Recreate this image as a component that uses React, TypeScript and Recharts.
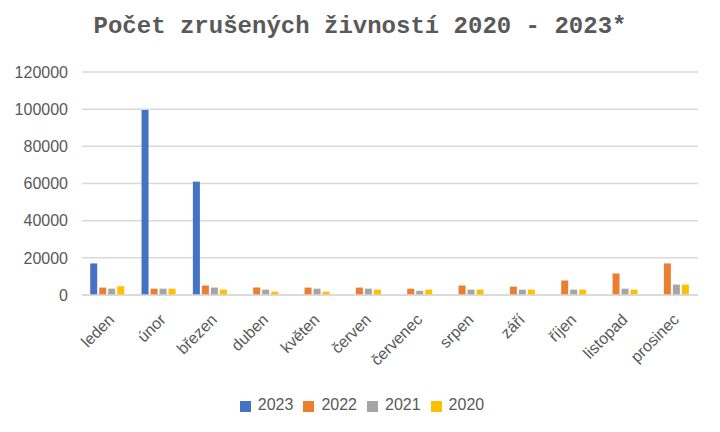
import { Bar, BarChart, CartesianGrid, Legend, XAxis, YAxis } from 'recharts'

const months = ['leden', 'únor', 'březen', 'duben', 'květen', 'červen', 'červenec', 'srpen', 'září', 'říjen', 'listopad', 'prosinec']
const y2023 = [17000, 99500, 61000, null, null, null, null, null, null, null, null, null]
const y2022 = [4000, 3400, 5100, 4000, 4000, 4000, 3400, 5100, 4500, 7800, 11600, 17000]
const y2021 = [3400, 3400, 4000, 2900, 3400, 3400, 2300, 2900, 2900, 2900, 3400, 5600]
const y2020 = [4700, 3400, 2900, 1800, 1800, 2900, 2900, 2900, 2900, 2900, 2900, 5600]
const yTicks = [0, 20000, 40000, 60000, 80000, 100000, 120000]

const data = months.map((m, i) => ({
  month: m,
  '2023': y2023[i],
  '2022': y2022[i],
  '2021': y2021[i],
  '2020': y2020[i],
}))

const textColor = '#595959'
const font = 'Liberation Sans, Arial, sans-serif'

function MonthTick({ x, y, payload }: any) {
  return (
    <g transform={`translate(${x + 2},${y + 12})`}>
      <text
        transform="rotate(-45)"
        textAnchor="end"
        dy={8}
        fill={textColor}
        fontSize={16}
        fontFamily={font}
      >
        {payload.value}
      </text>
    </g>
  )
}

export default function App() {
  return (
    <div style={{ position: 'absolute', left: 0, top: 0, width: 720, height: 432, background: '#fff' }}>
      <div
        style={{
          position: 'absolute',
          top: 13,
          width: 720,
          textAlign: 'center',
          fontFamily: 'Liberation Mono, monospace',
          fontWeight: 'bold',
          fontSize: 24,
          color: textColor,
        }}
      >
        Počet zrušených živností 2020 - 2023*
      </div>
      <BarChart
        width={720}
        height={432}
        data={data}
        margin={{ top: 72, right: 22, left: 0, bottom: 18 }}
        barCategoryGap="16%"
        barGap={2}
      >
        <CartesianGrid vertical={false} stroke="#D9D9D9" strokeWidth={1.5} />
        <XAxis
          dataKey="month"
          tick={<MonthTick />}
          tickLine={false}
          axisLine={{ stroke: '#D9D9D9', strokeWidth: 1.5 }}
          height={101}
          interval={0}
        />
        <YAxis
          domain={[0, 120000]}
          ticks={yTicks}
          width={82}
          tickLine={false}
          axisLine={false}
          tickMargin={8}
          tick={{ fill: textColor, fontSize: 16, fontFamily: font }}
        />
        <Legend
          verticalAlign="bottom"
          iconType="square"
          iconSize={11}
          wrapperStyle={{ left: 14, width: 706 }}
          itemSorter={(item: any) => -Number(item.value)}
          formatter={(v: string) => (
            <span style={{ color: textColor, fontSize: 16, fontFamily: font, marginLeft: 3 }}>{v}</span>
          )}
        />
        <Bar dataKey="2023" fill="#4472C4" isAnimationActive={false} />
        <Bar dataKey="2022" fill="#ED7D31" isAnimationActive={false} />
        <Bar dataKey="2021" fill="#A5A5A5" isAnimationActive={false} />
        <Bar dataKey="2020" fill="#FFC000" isAnimationActive={false} />
      </BarChart>
    </div>
  )
}
